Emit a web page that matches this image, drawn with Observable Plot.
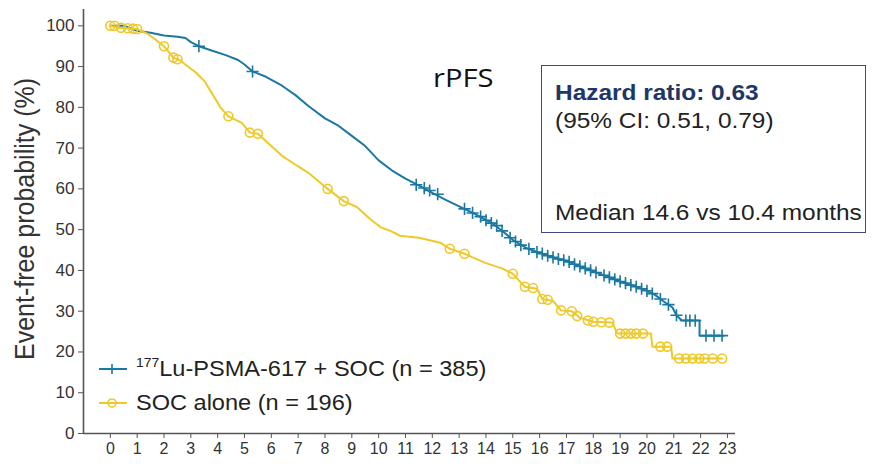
<!DOCTYPE html>
<html><head><meta charset="utf-8">
<script src="https://cdn.jsdelivr.net/npm/d3@7"></script>
<script src="https://cdn.jsdelivr.net/npm/@observablehq/plot@0.6"></script>
<style>
body{margin:0;background:#fff;}
#wrap{position:relative;width:874px;height:464px;font-family:"Liberation Sans",Arial,sans-serif;color:#222;}
#wrap svg.plot{position:absolute;left:0;top:0;}
.ylab{position:absolute;left:25px;top:219px;transform:translate(-50%,-50%) rotate(-90deg) scaleY(1.08);white-space:nowrap;font-size:25px;color:#333;}
.title{position:absolute;left:433px;top:59px;font-family:"Open Sans",sans-serif;font-size:26px;color:#111;transform:scaleX(1.12);transform-origin:left center;}
.box{position:absolute;left:541px;top:65px;width:325px;height:168px;border:1.5px solid #3c4a7c;box-sizing:border-box;}
.box div{position:absolute;left:13px;font-size:22px;color:#222;transform:scaleX(1.11);transform-origin:left center;white-space:nowrap;}
.box .hr{top:14px;font-weight:bold;color:#1f3765;}
.box .ci{top:42px;}
.box .md{top:134px;}
.leg{position:absolute;left:98px;display:flex;align-items:center;font-size:22px;color:#222;white-space:nowrap;}
.leg svg{margin-right:8px;}
.leg span{display:inline-block;transform:scaleX(1.07);transform-origin:left center;}
.leg sup{font-size:13px;vertical-align:9px;}
</style></head><body>
<div id="wrap"></div>
<script>
// ---- data ----
const xTicks = [0,1,2,3,4,5,6,7,8,9,10,11,12,13,14,15,16,17,18,19,20,21,22,23];
const yTicks = [0,10,20,30,40,50,60,70,80,90,100];

const luMonths = [0,0.5,1.0,1.5,2.0,2.5,2.8,3.0,3.3,3.8,4.3,4.76,5.0,5.3,5.8,6.4,6.9,7.37,8.0,8.5,9.0,9.5,10.0,10.5,11.0,11.65,12.0,12.5,13.1,13.6,14.25,14.7,15.0,15.5,16.0,16.5,17.0,17.5,18.0,18.5,19.0,19.5,20.0,20.3,20.6,20.95,21.1,21.3,21.96,21.96,22.85];
const luPct    = [100,100,98.8,98.3,97.6,97.3,97.0,96.0,95.0,93.9,92.8,91.6,90.5,88.8,87.5,85.3,83.0,80.4,77.3,75.5,73.0,70.5,67.0,64.5,62.5,60.3,59.0,57.3,55.4,53.8,51.5,49.2,47.5,45.5,44.3,43.2,42.3,41.0,39.8,38.5,37.3,36.2,35.0,34.0,32.5,30.9,29.0,27.7,27.7,24.0,24.0];

const socMonths = [0,0.3,1.0,1.4,1.7,2.0,2.35,2.6,3.2,3.5,3.8,4.1,4.4,4.9,5.2,5.5,6.0,6.4,7.0,7.37,8.0,8.7,9.2,9.7,10.1,10.4,10.8,11.5,12.3,12.65,13.2,13.5,14.0,14.6,15.0,15.3,15.45,15.9,16.1,16.5,16.8,17.2,17.5,18.0,18.7,18.9,20.15,20.2,20.9,20.95,22.8];
const socPct    = [100,99.5,99.2,98.0,96.5,95.0,92.2,91.5,88.5,86.5,83.3,80.0,77.8,76.2,73.8,73.5,70.5,68.1,65.5,64.0,60.5,57.0,55.5,52.5,50.5,49.8,48.5,48.0,46.8,45.3,44.1,43.2,41.8,40.5,39.2,37.0,36.0,35.5,33.0,32.5,30.2,30.0,28.4,27.4,27.2,24.5,24.5,21.3,21.3,18.4,18.4];

const luCensorMonths = [3.3,5.3,11.4,11.7,11.9,12.2,13.2,13.5,13.8,14.0,14.2,14.4,14.6,14.9,15.1,15.3,15.6,15.9,16.1,16.3,16.5,16.7,16.9,17.1,17.3,17.5,17.7,17.9,18.1,18.4,18.6,18.8,19.0,19.2,19.4,19.6,19.8,20.0,20.2,20.5,20.8,21.1,21.45,21.6,21.8,22.2,22.5,22.8];
const luCensorPct    = [95.0,88.8,61.0,60.2,59.6,58.7,55.1,54.1,53.2,52.3,51.6,51.0,49.7,48.0,47.1,46.2,45.3,44.5,44.1,43.6,43.2,42.8,42.5,42.1,41.5,41.0,40.5,40.0,39.5,38.8,38.3,37.8,37.3,36.9,36.4,36.0,35.5,35.0,34.3,33.0,31.6,29.0,27.7,27.7,27.7,24.0,24.0,24.0];

const socCensorMonths = [0,0.15,0.4,0.65,0.85,1.0,2.0,2.35,2.5,4.4,5.2,5.5,8.1,8.7,12.65,13.2,15.0,15.45,15.75,16.1,16.3,16.8,17.2,17.4,17.8,18.0,18.3,18.6,19.0,19.2,19.4,19.6,19.85,20.5,20.75,21.2,21.45,21.7,21.95,22.15,22.45,22.8];
const socCensorPct    = [100,100,99.5,99.4,99.3,99.2,95.0,92.2,91.8,77.8,73.8,73.5,60.0,57.0,45.3,44.1,39.2,36.0,35.7,33.0,32.8,30.2,30.0,28.8,27.7,27.4,27.3,27.2,24.5,24.5,24.5,24.5,24.5,21.3,21.3,18.4,18.4,18.4,18.4,18.4,18.4,18.4];

const seriesNames = ["177Lu-PSMA-617 + SOC (n = 385)", "SOC alone (n = 196)"];
const BLUE = "#1a78a2", YELLOW = "#efc82a";

// ---- build tables ----
const zip = (xs, ys) => xs.map((m, i) => ({m, p: ys[i]}));
const luData = zip(luMonths, luPct);
const socData = zip(socMonths, socPct);
const luCensor = zip(luCensorMonths, luCensorPct);
const socCensor = zip(socCensorMonths, socCensorPct);

const xDomain = [-1, 23.3], yDomain = [0, 104];

const plot = Plot.plot({
  width: 874, height: 464,
  marginLeft: 83, marginRight: 139, marginTop: 9, marginBottom: 31,
  x: {domain: xDomain},
  y: {domain: yDomain},
  style: {fontFamily: "Liberation Sans, Arial, sans-serif", background: "transparent", color: "#333"},
  marks: [
    Plot.axisX({ticks: xTicks, tickSize: 5, tickPadding: 4, fontSize: 16, label: null, tickFormat: d => d, stroke: "#555"}),
    Plot.axisY({ticks: yTicks, tickSize: 5, tickPadding: 4, fontSize: 17, label: null, tickFormat: d => d, stroke: "#555"}),
    Plot.ruleX([xDomain[0]], {stroke: "#555", strokeWidth: 1.6}),
    Plot.ruleY([yDomain[0]], {stroke: "#555", strokeWidth: 1.6}),
    Plot.line(luData, {x: "m", y: "p", stroke: BLUE, strokeWidth: 2}),
    Plot.dot(luCensor, {x: "m", y: "p", symbol: "plus", r: 4, stroke: BLUE, strokeWidth: 1.6}),
    Plot.line(socData, {x: "m", y: "p", stroke: YELLOW, strokeWidth: 2}),
    Plot.dot(socCensor, {x: "m", y: "p", r: 4.5, stroke: YELLOW, fill: "none", strokeWidth: 1.6})
  ]
});
plot.classList.add("plot");
const wrap = document.getElementById("wrap");
wrap.appendChild(plot);

// ---- annotations (HTML) ----
const ylab = document.createElement("div");
ylab.className = "ylab"; ylab.textContent = "Event-free probability (%)";
wrap.appendChild(ylab);

const title = document.createElement("div");
title.className = "title"; title.textContent = "rPFS";
wrap.appendChild(title);

const box = document.createElement("div");
box.className = "box";
box.innerHTML = '<div class="hr">Hazard ratio: 0.63</div><div class="ci">(95% CI: 0.51, 0.79)</div><div class="md">Median 14.6 vs 10.4 months</div>';
wrap.appendChild(box);

function legendRow(top, color, kind, html) {
  const d = document.createElement("div");
  d.className = "leg"; d.style.top = top + "px";
  const sym = kind === "plus"
    ? `<line x1="14" x2="14" y1="8" y2="18" stroke="${color}" stroke-width="1.6"/>`
    : `<circle cx="14" cy="13" r="4" fill="none" stroke="${color}" stroke-width="1.6"/>`;
  d.innerHTML = `<svg width="30" height="26"><line x1="1" x2="29" y1="13" y2="13" stroke="${color}" stroke-width="2"/>${sym}</svg><span>${html}</span>`;
  wrap.appendChild(d);
}
legendRow(355, BLUE, "plus", '<sup>177</sup>' + seriesNames[0].replace(/^177/, ""));
legendRow(390, YELLOW, "circle", seriesNames[1]);
</script>
</body></html>
